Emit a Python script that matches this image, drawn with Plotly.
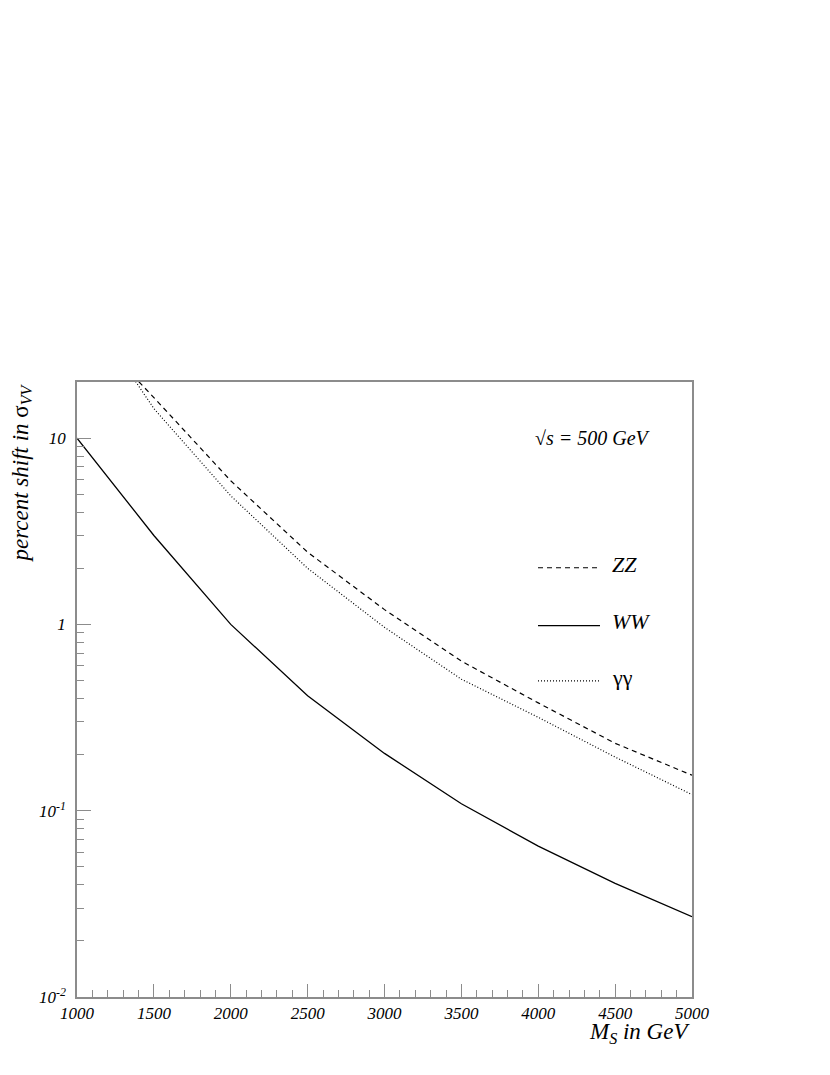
#!/usr/bin/env python3

import plotly.graph_objects as go

# scalar mass M_S in GeV
m_s = [1000, 1500, 2000, 2500, 3000, 3500, 4000, 4500, 5000]

# percent shift in sigma_VV
shift_zz = [45.0, 16.5, 5.9, 2.44, 1.2, 0.635, 0.379, 0.23, 0.155]
shift_ww = [10.0, 3.0, 1.0, 0.414, 0.203, 0.109, 0.0646, 0.0407, 0.027]
shift_aa = [59.0, 14.4, 4.9, 2.0, 0.964, 0.508, 0.317, 0.194, 0.122]

y_tickvals = [0.01, 0.1, 1, 10]
y_ticktext = ['10<sup>-2</sup>', '10<sup>-1</sup>', '1', '10']
x_tickvals = [1000, 1500, 2000, 2500, 3000, 3500, 4000, 4500, 5000]
x_ticktext = ['1000', '1500', '2000', '2500', '3000', '3500', '4000', '4500', '5000']
y_minor = [k * 10 ** e for e in (-2, -1, 0, 1) for k in range(2, 10) if k * 10 ** e < 20]
x_minor = list(range(1000, 5001, 100))

serif = 'Liberation Serif, Times New Roman, serif'
frame = '#8c8c8c'

fig = go.Figure()
fig.add_trace(go.Scatter(x=m_s, y=shift_zz, mode='lines', name='ZZ',
                         line=dict(color='black', width=1.2, dash='5px,4px')))
fig.add_trace(go.Scatter(x=m_s, y=shift_ww, mode='lines', name='WW',
                         line=dict(color='black', width=1.3)))
fig.add_trace(go.Scatter(x=m_s, y=shift_aa, mode='lines', name='γγ',
                         line=dict(color='black', width=1.2, dash='1px,2px')))

# the page body adds an 8px offset, so margins are trimmed to compensate
fig.update_layout(
    width=814, height=1059,
    margin=dict(l=69, r=130, t=374, b=70),
    paper_bgcolor='white', plot_bgcolor='white',
    showlegend=False,
    font=dict(family=serif, color='black'),
    xaxis=dict(
        range=[1000, 5000], showgrid=False, zeroline=False,
        showline=True, linecolor=frame, linewidth=1.5, mirror=True,
        ticks='inside', ticklen=13, tickcolor=frame, tickwidth=1,
        tickvals=x_tickvals, ticktext=x_ticktext,
        tickfont=dict(family=serif, size=17, style='italic'),
        minor=dict(tickvals=x_minor, ticks='inside', ticklen=7, tickcolor=frame),
    ),
    yaxis=dict(
        type='log', range=[-2, 1.301], showgrid=False, zeroline=False,
        showline=True, linecolor=frame, linewidth=1.5, mirror=True,
        ticks='inside', ticklen=14, tickcolor=frame, tickwidth=1,
        tickvals=y_tickvals, ticktext=y_ticktext, ticklabelstandoff=6,
        tickfont=dict(family=serif, size=17, style='italic'),
        minor=dict(tickvals=y_minor, ticks='inside', ticklen=7, tickcolor=frame),
    ),
)

# axis titles
fig.add_annotation(xref='paper', yref='paper', x=1.0, y=-0.033,
                   xanchor='right', yanchor='top', showarrow=False,
                   text='<i>M<sub>S</sub> in GeV</i>', font=dict(size=23))
fig.add_annotation(xref='paper', yref='paper', x=-0.117, y=1.0,
                   xanchor='left', yanchor='top', showarrow=False, textangle=-90,
                   text='<i>percent shift in</i> σ<sub><i>VV</i></sub>', font=dict(size=23))

fig.add_annotation(xref='paper', yref='paper', x=0.741, y=0.909,
                   xanchor='left', yanchor='middle', showarrow=False,
                   text='<i>√s = 500 GeV</i>', font=dict(size=20))

# hand-drawn legend
legend_rows = [('ZZ', 0.698, '5px,4px'), ('WW', 0.604, 'solid'), ('γγ', 0.514, '1px,2px')]
for label, yy, dash in legend_rows:
    fig.add_shape(type='line', xref='paper', yref='paper',
                  x0=0.7496, x1=0.8504, y0=yy, y1=yy,
                  line=dict(color='black', width=1.2, dash=dash))
    fig.add_annotation(xref='paper', yref='paper', x=0.866, y=yy + 0.006,
                       xanchor='left', yanchor='middle', showarrow=False,
                       text=label if label == 'γγ' else '<i>%s</i>' % label,
                       font=dict(size=22))

fig.write_html('out.html')
